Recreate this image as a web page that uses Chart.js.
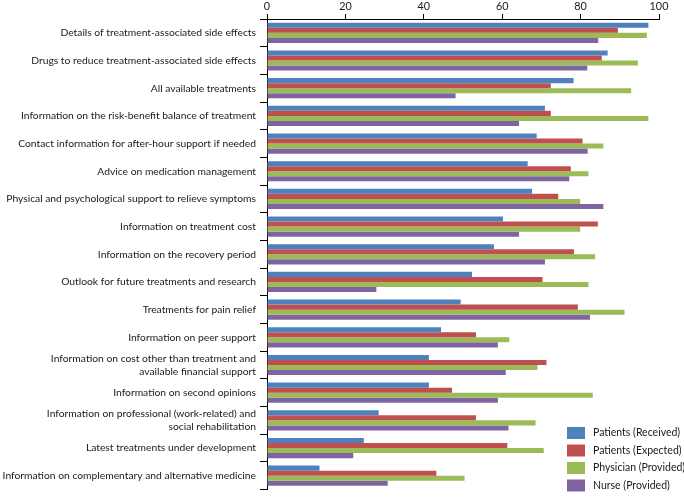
<!DOCTYPE html>
<html><head><meta charset="utf-8">
<script src="https://cdn.jsdelivr.net/npm/chart.js@4"></script>
<style>html,body{margin:0;padding:0;background:#fff}#wrap{width:684px;height:500px}</style>
</head><body><div id="wrap"><canvas id="c" width="684" height="500"></canvas></div>
<script>
const categories = [
  "Details of treatment-associated side effects",
  "Drugs to reduce treatment-associated side effects",
  "All available treatments",
  "Information on the risk-benefit balance of treatment",
  "Contact information for after-hour support if needed",
  "Advice on medication management",
  "Physical and psychological support to relieve symptoms",
  "Information on treatment cost",
  "Information on the recovery period",
  "Outlook for future treatments and research",
  "Treatments for pain relief",
  "Information on peer support",
  ["Information on cost other than treatment and", "available financial support"],
  "Information on second opinions",
  ["Information on professional (work-related) and", "social rehabilitation"],
  "Latest treatments under development",
  "Information on complementary and alternative medicine"
];
const seriesNames = ["Patients (Received)", "Patients (Expected)", "Physician (Provided)", "Nurse (Provided)"];
const patientsReceived = [97.3, 86.9, 78.2, 70.9, 68.8, 66.5, 67.6, 60.2, 57.9, 52.3, 49.4, 44.4, 41.3, 41.3, 28.5, 24.7, 13.4];
const patientsExpected = [89.5, 85.4, 72.4, 72.4, 80.5, 77.5, 74.3, 84.4, 78.3, 70.3, 79.3, 53.3, 71.3, 47.2, 53.3, 61.3, 43.2];
const physicianProvided = [96.9, 94.6, 92.9, 97.3, 85.8, 82.0, 79.9, 79.9, 83.7, 82.0, 91.2, 61.8, 69.0, 83.1, 68.5, 70.6, 50.4];
const nurseProvided = [84.5, 81.7, 48.1, 64.3, 81.8, 77.1, 85.8, 64.3, 70.9, 27.9, 82.4, 58.9, 60.9, 58.9, 61.6, 22.0, 30.8];
const xTicks = [0, 20, 40, 60, 80, 100];
const colors = ["#4F81BD", "#C0504D", "#9BBB59", "#8064A2"];

const FONT = "Lato, 'Liberation Sans', sans-serif";
const FS = 10.3;
const series = [patientsReceived, patientsExpected, physicianProvided, nurseProvided];

const legendPlugin = {
  id: 'insideLegend',
  afterDraw(chart) {
    const ctx = chart.ctx;
    const x0 = 567, y0 = 433, step = 17.5;
    ctx.save();
    ctx.font = "10.5px " + FONT;
    ctx.textBaseline = 'middle';
    ctx.textAlign = 'left';
    chart.data.datasets.forEach((ds, i) => {
      const y = y0 + i * step;
      ctx.fillStyle = ds.backgroundColor;
      ctx.fillRect(x0, y - 6, 18, 12);
      ctx.fillStyle = '#1a1a1a';
      ctx.fillText(ds.label, x0 + 26, y);
    });
    ctx.restore();
  }
};

new Chart(document.getElementById('c'), {
  type: 'bar',
  data: {
    labels: categories,
    datasets: series.map((d, i) => ({
      label: seriesNames[i],
      data: d,
      backgroundColor: colors[i],
      borderWidth: 0,
      categoryPercentage: 0.73,
      barPercentage: 1.0
    }))
  },
  options: {
    indexAxis: 'y',
    responsive: false,
    animation: false,
    layout: { padding: { left: 0, right: 25, top: 0, bottom: 1 } },
    plugins: { legend: { display: false }, tooltip: { enabled: false } },
    scales: {
      x: {
        position: 'top',
        min: 0, max: 100,
        afterBuildTicks(scale) { scale.ticks = xTicks.map(v => ({ value: v })); },
        afterFit(scale) { scale.height = 19; },
        border: { display: true, color: '#000', width: 1 },
        grid: { drawOnChartArea: false, drawTicks: true, tickLength: 5, color: '#000' },
        ticks: { color: '#1a1a1a', font: { size: 10.8, family: FONT }, padding: 1 }
      },
      y: {
        afterFit(scale) { scale.width = 267; },
        border: { display: true, color: '#000', width: 1 },
        grid: { offset: true, drawOnChartArea: false, drawTicks: true, tickLength: 7, color: '#000' },
        ticks: { color: '#1a1a1a', font: { size: FS, family: FONT, lineHeight: 1.25 }, padding: 4, autoSkip: false }
      }
    }
  },
  plugins: [legendPlugin]
});
</script></body></html>
